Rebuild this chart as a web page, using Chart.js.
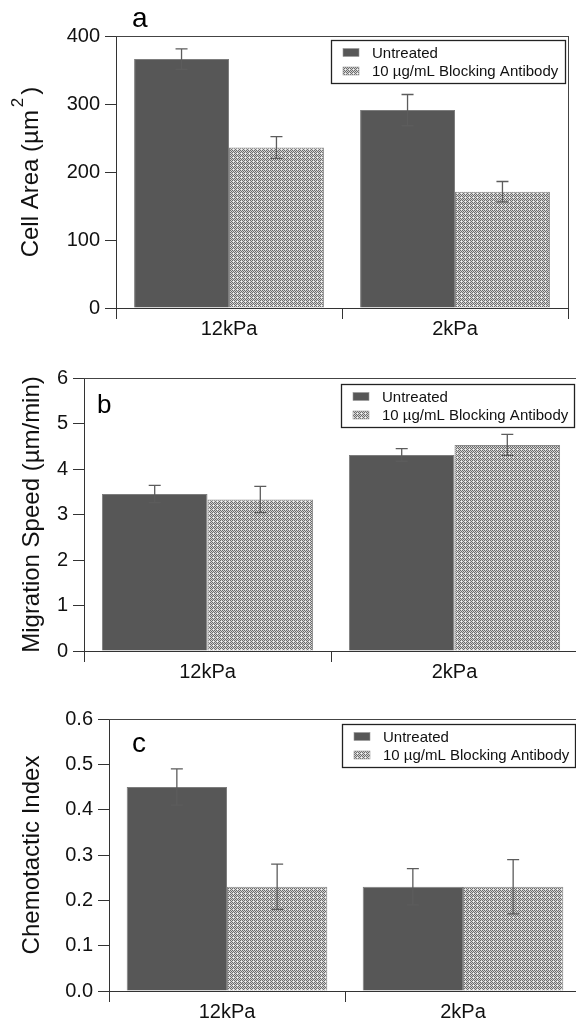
<!DOCTYPE html>
<html>
<head>
<meta charset="utf-8">
<script src="https://cdn.jsdelivr.net/npm/chart.js@4.4.1/dist/chart.umd.min.js"></script>
<style>
  html, body { margin: 0; padding: 0; background: #fff; overflow: hidden; }
  .panel { position: absolute; left: 0; }
</style>
</head>
<body>
<canvas id="panelA" class="panel" style="top:0px"></canvas>
<canvas id="panelB" class="panel" style="top:340px"></canvas>
<canvas id="panelC" class="panel" style="top:680px"></canvas>
<script>
// data
const categories = ["12kPa", "2kPa"];
const seriesNames = ["Untreated", "10 µg/mL Blocking Antibody"];

const areaUntreated = [366, 291];
const areaUntreatedErr = [15, 23];
const areaBlocked = [236, 171];
const areaBlockedErr = [16, 15];
const areaTicks = [0, 100, 200, 300, 400];

const speedUntreated = [3.45, 4.31];
const speedUntreatedErr = [0.19, 0.14];
const speedBlocked = [3.33, 4.53];
const speedBlockedErr = [0.29, 0.23];
const speedTicks = [0, 1, 2, 3, 4, 5, 6];

const ciUntreated = [0.45, 0.23];
const ciUntreatedErr = [0.04, 0.04];
const ciBlocked = [0.23, 0.23];
const ciBlockedErr = [0.05, 0.06];
const ciTicks = [0, 0.1, 0.2, 0.3, 0.4, 0.5, 0.6];

const FONT = "'Liberation Sans', Arial, sans-serif";
const DARK = "#575757";

// dotted grey fill used for the antibody bars
function makeHatch() {
    const c = document.createElement("canvas");
    c.width = 4; c.height = 4;
    const g = c.getContext("2d");
    g.fillStyle = "#d4d4d4";
    g.fillRect(0, 0, 4, 4);
    g.fillStyle = "#6c6c6c";
    for (let y = 0; y < 4; y++) {
        for (let x = 0; x < 4; x++) {
            if ((x + y) % 2 === 0) g.fillRect(x, y, 1, 1);
        }
    }
    g.fillStyle = "#f4f4f4";
    g.fillRect(1, 1, 1, 1);
    return g.createPattern(c, "repeat");
}
const hatch = makeHatch();

// draws error bars, frame, legend, panel letter and y title
const extras = {
    id: "extras",
    afterDatasetsDraw(chart, args, opts) {
        const ctx = chart.ctx;
        const y = chart.scales.y;
        const area = chart.chartArea;
        ctx.save();

        // error bars
        chart.data.datasets.forEach((ds, di) => {
            const meta = chart.getDatasetMeta(di);
            meta.data.forEach((bar, i) => {
                const v = ds.data[i], e = ds.errors[i];
                const yt = y.getPixelForValue(v + e);
                const yb = y.getPixelForValue(v - e);
                ctx.strokeStyle = "#5c5c5c";
                ctx.lineWidth = 1.3;
                ctx.beginPath();
                ctx.moveTo(bar.x, yt); ctx.lineTo(bar.x, yb);
                ctx.moveTo(bar.x - 6, yt); ctx.lineTo(bar.x + 6, yt);
                ctx.moveTo(bar.x - 6, yb); ctx.lineTo(bar.x + 6, yb);
                ctx.stroke();
            });
        });

        // top and right frame
        ctx.strokeStyle = "#444";
        ctx.lineWidth = 1;
        ctx.beginPath();
        ctx.moveTo(area.left, Math.round(area.top) + 0.5);
        ctx.lineTo(area.right, Math.round(area.top) + 0.5);
        ctx.moveTo(Math.round(area.right) + 0.5, area.top);
        ctx.lineTo(Math.round(area.right) + 0.5, area.bottom);
        ctx.stroke();

        // legend
        const L = opts.legend;
        ctx.fillStyle = "#fff";
        ctx.fillRect(L.x, L.y, L.w, L.h);
        ctx.strokeStyle = "#222";
        ctx.lineWidth = 1.3;
        ctx.strokeRect(L.x + 0.5, L.y + 0.5, L.w, L.h);
        ctx.font = "15px " + FONT;
        ctx.textBaseline = "middle";
        chart.data.datasets.forEach((ds, di) => {
            const cy = L.y + 12.5 + di * 18.5;
            ctx.fillStyle = ds.backgroundColor;
            ctx.fillRect(L.x + 12, cy - 4, 16, 8);
            ctx.strokeStyle = "#999";
            ctx.lineWidth = 0.6;
            ctx.strokeRect(L.x + 12, cy - 4, 16, 8);
            ctx.fillStyle = "#111";
            ctx.fillText(ds.label, L.x + 41, cy + 1);
        });

        // panel letter
        ctx.font = opts.letterSize + "px " + FONT;
        ctx.textBaseline = "alphabetic";
        ctx.fillStyle = "#000";
        ctx.fillText(opts.letter, opts.letterX, opts.letterY);

        // rotated y title, optional superscript part
        const t = opts.title;
        ctx.translate(t.x, (area.top + area.bottom) / 2);
        ctx.rotate(-Math.PI / 2);
        ctx.font = "24px " + FONT;
        ctx.fillStyle = "#111";
        ctx.textBaseline = "middle";
        const supFont = "17px " + FONT;
        const wMain = ctx.measureText(t.main).width;
        ctx.font = supFont;
        const wSup = t.sup ? ctx.measureText(t.sup).width + 6 : 0;
        ctx.font = "24px " + FONT;
        const wTail = t.tail ? ctx.measureText(t.tail).width : 0;
        let x0 = -(wMain + wSup + wTail) / 2;
        ctx.fillText(t.main, x0, 0);
        x0 += wMain;
        if (t.sup) {
            ctx.font = supFont;
            ctx.fillText(t.sup, x0 + 3, -13);
            x0 += wSup;
            ctx.font = "24px " + FONT;
        }
        if (t.tail) ctx.fillText(t.tail, x0, 0);
        ctx.restore();
    }
};

function makePanel(id, w, h, box, vals, ticks, fmt, opts) {
    const canvas = document.getElementById(id);
    canvas.width = w; canvas.height = h;
    return new Chart(canvas, {
        type: "bar",
        data: {
            labels: categories,
            datasets: [
                {
                    label: seriesNames[0],
                    data: vals[0],
                    errors: vals[1],
                    backgroundColor: DARK,
                    borderColor: "#7d7d7d",
                    borderWidth: 1,
                    barPercentage: 1,
                    categoryPercentage: box.cat
                },
                {
                    label: seriesNames[1],
                    data: vals[2],
                    errors: vals[3],
                    backgroundColor: hatch,
                    borderColor: "#8a8a8a",
                    borderWidth: 1,
                    barPercentage: 1,
                    categoryPercentage: box.cat
                }
            ]
        },
        options: {
            responsive: false,
            animation: false,
            devicePixelRatio: 1,
            layout: { padding: { top: box.top, right: w - box.right, left: 0, bottom: 0 } },
            plugins: {
                legend: { display: false },
                tooltip: { enabled: false },
                extras: opts
            },
            scales: {
                x: {
                    afterFit: s => { s.height = h - box.bottom; },
                    grid: { offset: true, drawOnChartArea: false, tickLength: 11, color: "#333", lineWidth: 1 },
                    border: { color: "#333", width: 1 },
                    ticks: { font: { family: FONT, size: 20 }, color: "#111", padding: -2, maxRotation: 0 }
                },
                y: {
                    min: ticks[0],
                    max: ticks[ticks.length - 1],
                    afterFit: s => { s.width = box.left; },
                    afterBuildTicks: s => { s.ticks = ticks.map(v => ({ value: v })); },
                    grid: { drawOnChartArea: false, tickLength: 11, color: "#333", lineWidth: 1 },
                    border: { color: "#333", width: 1 },
                    ticks: { font: { family: FONT, size: 20 }, color: "#111", padding: 5, callback: fmt }
                }
            }
        },
        plugins: [extras]
    });
}

makePanel("panelA", 590, 340,
    { left: 116, right: 568, top: 36, bottom: 308, cat: 0.84 },
    [areaUntreated, areaUntreatedErr, areaBlocked, areaBlockedErr],
    areaTicks, v => String(v),
    {
        legend: { x: 331, y: 40, w: 234, h: 43 },
        letter: "a", letterSize: 28, letterX: 132, letterY: 27,
        title: { x: 31, main: "Cell Area (µm", sup: "2", tail: ")" }
    });

makePanel("panelB", 590, 346,
    { left: 84, right: 578, top: 38, bottom: 311, cat: 0.855 },
    [speedUntreated, speedUntreatedErr, speedBlocked, speedBlockedErr],
    speedTicks, v => String(v),
    {
        legend: { x: 341, y: 44, w: 233, h: 43 },
        letter: "b", letterSize: 26, letterX: 97, letterY: 73,
        title: { x: 32, main: "Migration Speed (µm/min)" }
    });

makePanel("panelC", 590, 341,
    { left: 109, right: 581, top: 39, bottom: 311, cat: 0.85 },
    [ciUntreated, ciUntreatedErr, ciBlocked, ciBlockedErr],
    ciTicks, v => Number(v).toFixed(1),
    {
        legend: { x: 342, y: 44, w: 233, h: 43 },
        letter: "c", letterSize: 28, letterX: 132, letterY: 72,
        title: { x: 32, main: "Chemotactic Index" }
    });
</script>
</body>
</html>
